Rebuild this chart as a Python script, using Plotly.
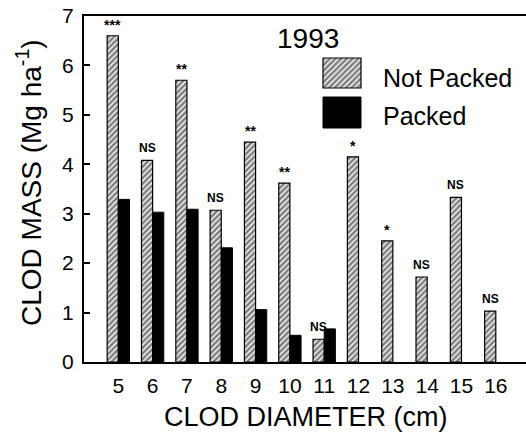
import plotly.graph_objects as go

diameters = [5, 6, 7, 8, 9, 10, 11, 12, 13, 14, 15, 16]
not_packed = [6.60, 4.08, 5.70, 3.07, 4.45, 3.62, 0.46, 4.15, 2.45, 1.72, 3.33, 1.03]
packed = [3.29, 3.03, 3.09, 2.31, 1.06, 0.54, 0.67, None, None, None, None, None]
signif = ["***", "NS", "**", "NS", "**", "**", "NS", "*", "*", "NS", "NS", "NS"]
y_ticks = [0, 1, 2, 3, 4, 5, 6, 7]

FONT = "Liberation Sans, Arial, sans-serif"
BARGAP = 0.35
HATCH = dict(shape="/", size=4, solidity=0.65, fgcolor="black", bgcolor="white")

W, H = 526, 433
L, R, T, B = 84, 526, 16, 362


def px(xp):
    return (xp - L) / (R - L)


def py(yp):
    return (B - yp) / (B - T)


fig = go.Figure()
fig.add_trace(go.Bar(
    x=diameters, y=not_packed, name="Not Packed",
    marker=dict(color="white", line=dict(color="black", width=1.2), pattern=HATCH),
    showlegend=False,
))
fig.add_trace(go.Bar(
    x=diameters, y=packed, name="Packed",
    marker=dict(color="black", line=dict(color="black", width=1)),
    showlegend=False,
))

# significance labels above the Not Packed bars
offset = (1 - BARGAP) / 4
for d, v, s in zip(diameters, not_packed, signif):
    fig.add_annotation(x=d - offset, y=v, text=f"<b>{s}</b>", showarrow=False,
                       yanchor="bottom", yshift=1 if s != "NS" else 3,
                       font=dict(family=FONT, size=14 if "*" in s else 12, color="black"))

# custom legend drawn on an overlay axis in pixel-like units
fig.add_trace(go.Scatter(
    x=[323, 361, 361, 323, 323], y=[58, 58, 88, 88, 58],
    xaxis="x2", yaxis="y2", mode="lines", fill="toself",
    fillcolor="white", line=dict(color="black", width=1.2),
    fillpattern=HATCH, showlegend=False, hoverinfo="skip",
))
fig.add_trace(go.Scatter(
    x=[323, 361, 361, 323, 323], y=[97, 97, 128, 128, 97],
    xaxis="x2", yaxis="y2", mode="lines", fill="toself",
    fillcolor="black", line=dict(color="black", width=1),
    showlegend=False, hoverinfo="skip",
))


def note(x, y, text, size, anchor="left", angle=0):
    fig.add_annotation(x=px(x), y=py(y), xref="paper", yref="paper", text=text,
                       showarrow=False, xanchor=anchor, yanchor="middle", textangle=angle,
                       font=dict(family=FONT, size=size, color="black"))


note(381, 78, "Not Packed", 25)
note(381, 116, "Packed", 25)
note(275, 38, "1993", 28)
note(306, 417, "CLOD DIAMETER (cm)", 27, anchor="center")
note(29, 183, "CLOD MASS (Mg ha<sup>-1</sup>)", 28, anchor="center", angle=-90)

fig.update_layout(
    width=W, height=H,
    margin=dict(l=L, r=W - R, t=T, b=H - B),
    paper_bgcolor="white", plot_bgcolor="white",
    barmode="group", bargap=BARGAP, bargroupgap=0,
    font=dict(family=FONT, color="black"),
    xaxis=dict(range=[4, 16.88], tickvals=diameters, ticktext=[str(d) for d in diameters],
               showgrid=False, zeroline=False, showline=True, linecolor="black", linewidth=2,
               mirror=True, ticks="", tickfont=dict(size=21), ticklabelstandoff=4,
               automargin=False),
    yaxis=dict(range=[0, 7], tickvals=y_ticks, showgrid=False, zeroline=False,
               showline=True, linecolor="black", linewidth=2,
               ticks="inside", ticklen=6, tickwidth=1.5, tickcolor="black",
               tickfont=dict(size=21), ticklabelstandoff=4, automargin=False),
    xaxis2=dict(range=[L, R], overlaying="x", visible=False, fixedrange=True),
    yaxis2=dict(range=[B, T], overlaying="y", visible=False, fixedrange=True),
)

fig.write_html("out.html", config={"displayModeBar": False},
               post_script="document.body.style.margin='0';document.body.style.overflow='hidden';")
